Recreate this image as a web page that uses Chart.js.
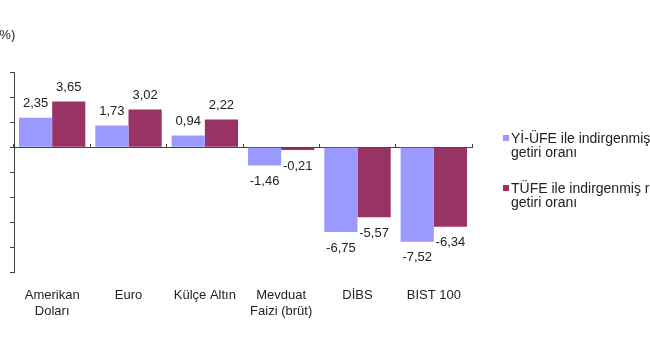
<!DOCTYPE html>
<html>
<head>
<meta charset="utf-8">
<script src="https://cdn.jsdelivr.net/npm/chart.js@4"></script>
<style>
  html, body { margin: 0; padding: 0; background: #fff; overflow: hidden; }
  #wrap { position: relative; width: 650px; height: 360px; overflow: hidden; }
  #unit { position: absolute; left: -5px; top: 27px; font: 13px Arial, "Liberation Sans", sans-serif; color: #222; }
  #legend { position: absolute; left: 503px; top: 131px; font: 14px Arial, "Liberation Sans", sans-serif; color: #222; white-space: nowrap; line-height: 14px; }
  .item { position: relative; padding-left: 8px; margin-bottom: 22px; }
  .box { position: absolute; left: 0; top: 4px; width: 6px; height: 6px; }
</style>
</head>
<body>
<div id="wrap">
  <canvas id="chart" width="650" height="360"></canvas>
  <div id="unit">(%)</div>
  <div id="legend"></div>
</div>
<script>
var categories = [['Amerikan', 'Doları'], 'Euro', 'Külçe Altın', ['Mevduat', 'Faizi (brüt)'], 'DİBS', 'BIST 100'];
var seriesNames = [['Yİ-ÜFE ile indirgenmiş reel', 'getiri oranı'], ['TÜFE ile indirgenmiş reel', 'getiri oranı']];
var yiUfe = [2.35, 1.73, 0.94, -1.46, -6.75, -7.52];
var tufe = [3.65, 3.02, 2.22, -0.21, -5.57, -6.34];
var colors = ['#9999ff', '#993366'];

// value labels above / below each bar, comma decimals
var valueLabels = {
    id: 'valueLabels',
    afterDatasetsDraw: function(chart) {
        var ctx = chart.ctx;
        ctx.save();
        ctx.font = '13px Arial, "Liberation Sans", sans-serif';
        ctx.fillStyle = '#222';
        ctx.textAlign = 'center';
        ctx.textBaseline = 'middle';
        chart.data.datasets.forEach(function(ds, i) {
            var meta = chart.getDatasetMeta(i);
            meta.data.forEach(function(bar, j) {
                var v = ds.data[j];
                var txt = v.toFixed(2).replace('.', ',');
                var y = v >= 0 ? bar.y - 14 : bar.y + 16;
                ctx.fillText(txt, bar.x, y);
            });
        });
        ctx.restore();
    }
};

var ctx = document.getElementById('chart').getContext('2d');
var chart = new Chart(ctx, {
    type: 'bar',
    data: {
        labels: categories,
        datasets: [{
            label: seriesNames[0].join(' '),
            data: yiUfe,
            backgroundColor: colors[0],
            xAxisID: 'x'
        }, {
            label: seriesNames[1].join(' '),
            data: tufe,
            backgroundColor: colors[1],
            xAxisID: 'x'
        }]
    },
    options: {
        responsive: false,
        animation: false,
        categoryPercentage: 0.87,
        barPercentage: 1,
        layout: { padding: { top: 72, right: 178, left: 10, bottom: 34 } },
        plugins: {
            legend: { display: false },
            tooltip: { enabled: false }
        },
        scales: {
            x: {
                position: 'bottom',
                grid: { display: false },
                border: { display: false },
                ticks: {
                    padding: 7,
                    color: '#222',
                    maxRotation: 0,
                    autoSkip: false,
                    font: { family: 'Arial, "Liberation Sans", sans-serif', size: 13 }
                }
            },
            zero: {
                type: 'category',
                axis: 'x',
                position: { y: 0 },
                offset: true,
                grid: { drawOnChartArea: false, offset: true, tickLength: -4, color: '#444' },
                border: { color: '#444' },
                ticks: { display: false }
            },
            y: {
                min: -10,
                max: 6,
                ticks: { stepSize: 2, display: false },
                grid: { drawOnChartArea: false, tickLength: 4, color: '#444' },
                border: { color: '#444' }
            }
        }
    },
    plugins: [valueLabels]
});

// legend drawn beside the chart
var legend = document.getElementById('legend');
seriesNames.forEach(function(name, i) {
    var item = document.createElement('div');
    item.className = 'item';
    var box = document.createElement('span');
    box.className = 'box';
    box.style.background = colors[i];
    item.appendChild(box);
    item.appendChild(document.createTextNode(name[0]));
    item.appendChild(document.createElement('br'));
    item.appendChild(document.createTextNode(name[1]));
    legend.appendChild(item);
});
</script>
</body>
</html>
